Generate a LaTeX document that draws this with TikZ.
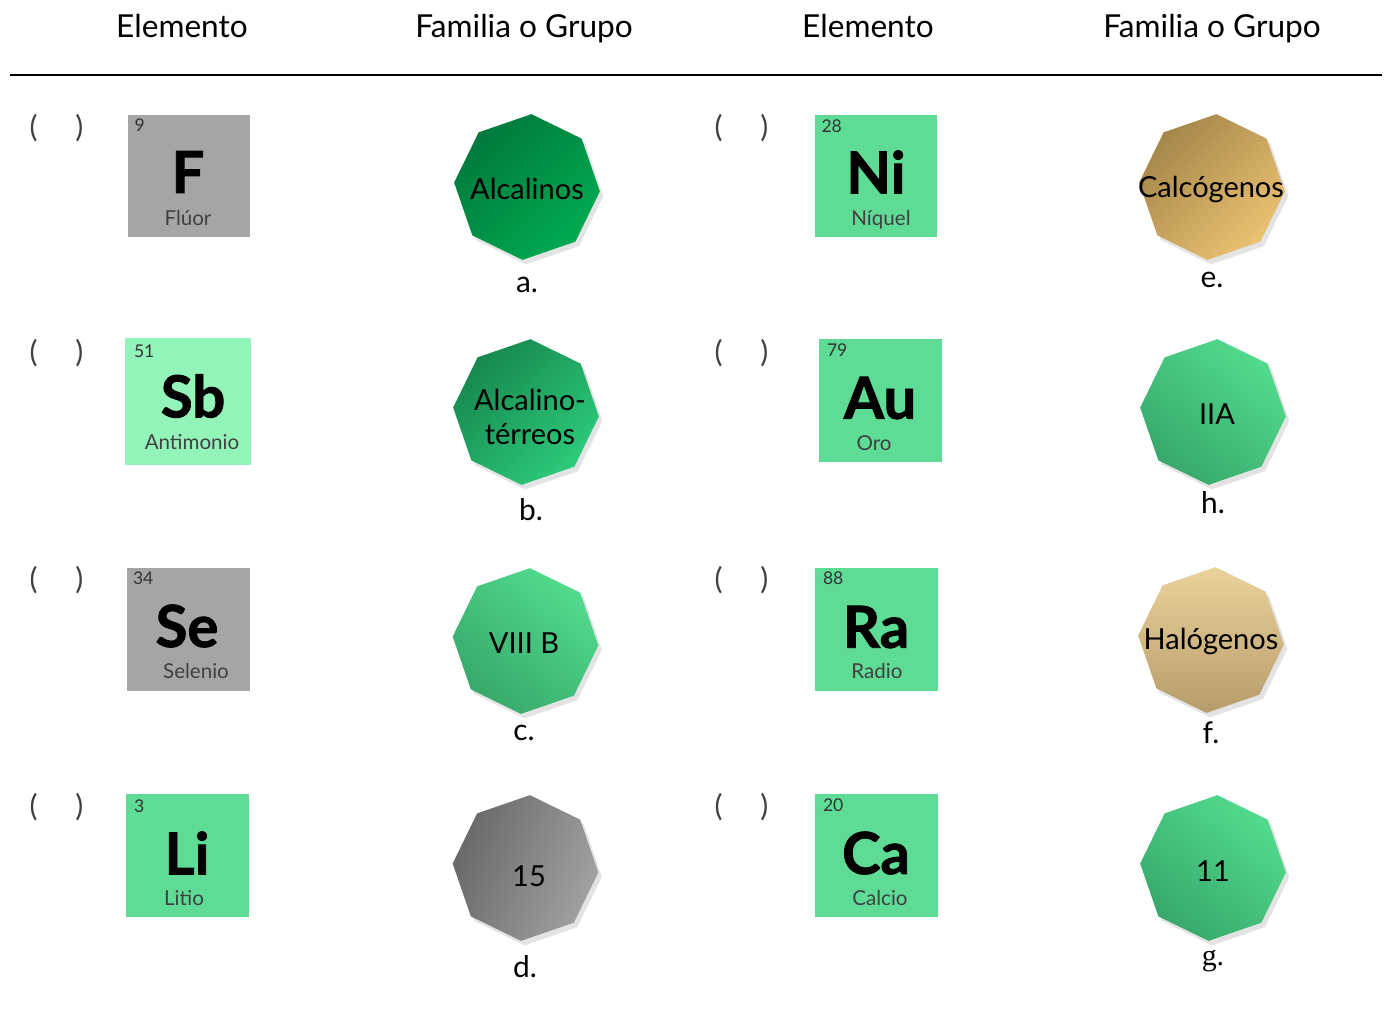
\documentclass[tikz,border=0pt]{standalone}
\usepackage{fontspec}
\setmainfont{Lato}
\newfontfamily\latoblk{Lato}[FakeBold=1.5]
\newfontfamily\serifg{Liberation Serif}
\usetikzlibrary{positioning,calc,shapes.geometric,shadows}
\definecolor{gris}{HTML}{A5A5A5}
\definecolor{verdeClaro}{HTML}{93F4BA}
\definecolor{verde}{HTML}{5EDC96}
\definecolor{alcA1}{HTML}{00793C}
\definecolor{alcA2}{HTML}{00AA52}
\definecolor{alcT1}{HTML}{17874E}
\definecolor{alcT2}{HTML}{2DCB7B}
\definecolor{vrd1}{HTML}{52DB8E}
\definecolor{vrd2}{HTML}{37A86A}
\definecolor{gris1}{HTML}{686868}
\definecolor{gris2}{HTML}{A2A2A2}
\definecolor{calc1}{HTML}{A4864A}
\definecolor{calc2}{HTML}{ECC272}
\definecolor{hal1}{HTML}{EAD29C}
\definecolor{hal2}{HTML}{B69C6A}

\tikzset{
  tile/.style={draw=none, minimum width=2.46cm, minimum height=2.46cm, inner sep=0pt},
  num/.style={anchor=north west, inner sep=0pt, font=\fontsize{10}{11}\selectfont, text=black!80},
  sym/.style={inner sep=0pt, font=\fontsize{33}{33}\latoblk\bfseries},
  nom/.style={inner sep=0pt, font=\fontsize{11.7}{13}\selectfont, text=black!75, text height=1.6ex, text depth=0.3ex},
  oct/.style={regular polygon, regular polygon sides=8, shape border rotate=-26, minimum size=2.92cm,
    inner sep=0pt, drop shadow={opacity=0.22, shadow xshift=0.07cm, shadow yshift=-0.09cm}},
  octtxt/.style={inner sep=0pt, align=center, font=\fontsize{16.5}{19}\selectfont},
  letra/.style={anchor=base, inner sep=0pt, font=\fontsize{17}{20}\selectfont},
  cabeza/.style={anchor=base, inner sep=0pt, font=\fontsize{18}{21}\selectfont},
  parens/.style={inner sep=0pt, font=\fontsize{17}{20}\selectfont, text=black!75}
}

\begin{document}
\begin{tikzpicture}[x=0.02cm,y=-0.02cm]
\useasboundingbox[fill=white] (0,0) rectangle (1390,1015);

\node[cabeza] (h1) at (182,37) {Elemento};
\node[cabeza] (h2) at (524,37) {Familia o Grupo};
\node[cabeza] (h3) at (868,37) {Elemento};
\node[cabeza] (h4) at (1212,37) {Familia o Grupo};
\draw[line width=1.2pt] (10,75) -- (1382,75);

\foreach \y [count=\i] in {128,353,580,807} {
  \node[parens] (pI\i) at (56.5,\y) {(\hspace{0.76cm})};
  \node[parens] (pD\i) at (741.5,\y) {(\hspace{0.76cm})};
}

\node[tile, fill=gris] (tF) at (189,176) {};
\node[num] (nF) at ($(tF.north west)+(7,4)$) {9};
\node[sym] (sF) at ($(tF)+(-1,-4)$) {F};
\node[nom] (mF) at ($(tF)+(-1,44)$) {Flúor};

\node[tile, fill=verdeClaro, minimum height=2.54cm, minimum width=2.52cm] (tSb) at (188,401.5) {};
\node[num] (nSb) at ($(tSb.north west)+(9,7)$) {51};
\node[sym] (sSb) at ($(tSb)+(5,-5.5)$) {Sb};
\node[nom] (mSb) at ($(tSb)+(4,42.5)$) {Antimonio};

\node[tile, fill=gris] (tSe) at (188.5,629.5) {};
\node[num] (nSe) at ($(tSe.north west)+(6,4)$) {34};
\node[sym] (sSe) at ($(tSe)+(-1.5,-3.5)$) {Se};
\node[nom] (mSe) at ($(tSe)+(7.5,43.5)$) {Selenio};

\node[tile, fill=verde] (tLi) at (187.5,855.5) {};
\node[num] (nLi) at ($(tLi.north west)+(8,6)$) {3};
\node[sym] (sLi) at ($(tLi)+(-0.5,-2.5)$) {Li};
\node[nom] (mLi) at ($(tLi)+(-3.5,44.5)$) {Litio};

\node[tile, fill=verde] (tNi) at (876,176) {};
\node[num] (nNi) at ($(tNi.north west)+(7,5)$) {28};
\node[sym] (sNi) at ($(tNi)+(0,-4)$) {Ni};
\node[nom] (mNi) at ($(tNi)+(5,44)$) {Níquel};

\node[tile, fill=verde] (tAu) at (880.5,400.5) {};
\node[num] (nAu) at ($(tAu.north west)+(8,5)$) {79};
\node[sym] (sAu) at ($(tAu)+(-0.5,-2.5)$) {Au};
\node[nom] (mAu) at ($(tAu)+(-6.5,44.5)$) {Oro};

\node[tile, fill=verde] (tRa) at (876.5,629) {};
\node[num] (nRa) at ($(tRa.north west)+(8,4)$) {88};
\node[sym] (sRa) at ($(tRa)+(-0.5,-2)$) {Ra};
\node[nom] (mRa) at ($(tRa)+(0.5,44)$) {Radio};

\node[tile, fill=verde] (tCa) at (876.5,855.5) {};
\node[num] (nCa) at ($(tCa.north west)+(8,5)$) {20};
\node[sym] (sCa) at ($(tCa)+(-0.5,-2.5)$) {Ca};
\node[nom] (mCa) at ($(tCa)+(3.5,44.5)$) {Calcio};

\node[oct, top color=alcA1, bottom color=alcA2, shading angle=45] (oA) at (527,187) {};
\node[octtxt] (xA) at (527,189) {Alcalinos};
\node[letra] (lA) at (527,292) {a.};

\node[oct, top color=alcT1, bottom color=alcT2, shading angle=45] (oB) at (526,412) {};
\node[octtxt] (xB) at (530,417) {Alcalino-\\térreos};
\node[letra] (lB) at (531,520) {b.};

\node[oct, top color=vrd1, bottom color=vrd2, shading angle=-40] (oC) at (525.5,641) {};
\node[octtxt] (xC) at (524,643) {VIII B};
\node[letra] (lC) at (524,740) {c.};

\node[oct, top color=gris1, bottom color=gris2, shading angle=70] (oD) at (525.5,868) {};
\node[octtxt] (xD) at (529,876) {15};
\node[letra] (lD) at (525,977) {d.};

\node[oct, top color=calc1, bottom color=calc2, shading angle=45] (oE) at (1212,187) {};
\node[octtxt] (xE) at (1211,189) {Calcógenos};
\node[letra] (lE) at (1212,287) {e.};

\node[oct, top color=vrd1, bottom color=vrd2, shading angle=-40] (oH) at (1213,412) {};
\node[octtxt] (xH) at (1217,414) {IIA};
\node[letra] (lH) at (1213,513) {h.};

\node[oct, top color=hal1, bottom color=hal2, shading angle=0] (oF) at (1211,640) {};
\node[octtxt] (xF) at (1211,641) {Halógenos};
\node[letra] (lF) at (1211,743) {f.};

\node[oct, top color=vrd1, bottom color=vrd2, shading angle=-40] (oG) at (1213,868) {};
\node[octtxt] (xG) at (1213,871) {11};
\node[letra, font=\fontsize{17}{20}\serifg] (lG) at (1213,965) {g.};
\end{tikzpicture}
\end{document}
